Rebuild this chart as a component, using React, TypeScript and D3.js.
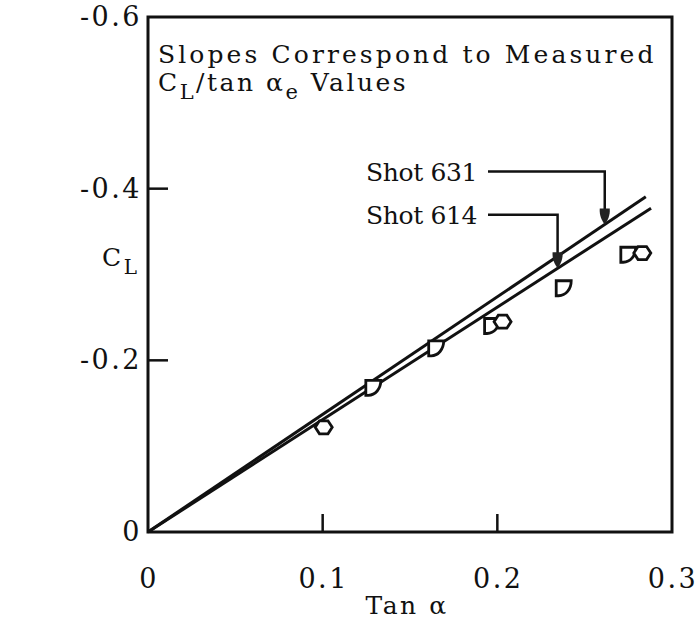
import React, {useEffect, useRef} from 'react'
import * as d3 from 'd3'

// axis values
const xTicks = [0, 0.1, 0.2, 0.3]
const xTickLabels = ['0', '0.1', '0.2', '0.3']
const yTicks = [0, -0.2, -0.4, -0.6]
const yTickLabels = ['0', '-0.2', '-0.4', '-0.6']

// slope lines (C_L / tan alpha)
const shotNames = ['Shot 631', 'Shot 614']
const shotSlopes = [-1.37, -1.31]
const shotEndX = [0.285, 0.288]
const shotArrowX = [0.2615, 0.2345]
const shotLabelY = [-0.42, -0.3695]

// measured points
const dPoints = [[0.129, -0.168], [0.165, -0.214], [0.197, -0.240], [0.238, -0.284], [0.275, -0.323]]
const hexPoints = [[0.1006, -0.122], [0.203, -0.245], [0.283, -0.325]]

const W = 698, H = 621
const margin = {top: 17, right: 26, bottom: 89, left: 148}
const font = '"DejaVu Serif", serif'
const fontSize = 25

function App() {
  const ref = useRef<SVGSVGElement>(null)

  useEffect(() => {
    const svg = d3.select(ref.current)
    svg.selectAll('*').remove()

    const x = d3.scaleLinear().domain([0, 0.3]).range([margin.left, W - margin.right])
    const y = d3.scaleLinear().domain([0, -0.6]).range([H - margin.bottom, margin.top])

    svg.append('rect').attr('width', W).attr('height', H).attr('fill', 'white')

    // frame
    svg.append('rect')
      .attr('x', x(0)).attr('y', y(-0.6))
      .attr('width', x(0.3) - x(0)).attr('height', y(0) - y(-0.6))
      .attr('fill', 'none').attr('stroke', '#111').attr('stroke-width', 3)

    // inward ticks
    svg.selectAll('xtick').data(xTicks.slice(1, -1)).enter().append('line')
      .attr('x1', d => x(d)).attr('x2', d => x(d))
      .attr('y1', y(0)).attr('y2', y(0) - 18)
      .attr('stroke', '#111').attr('stroke-width', 2.5)
    svg.selectAll('ytick').data(yTicks.slice(1, -1)).enter().append('line')
      .attr('y1', d => y(d)).attr('y2', d => y(d))
      .attr('x1', x(0)).attr('x2', x(0) + 20)
      .attr('stroke', '#111').attr('stroke-width', 2.5)

    const txt = (sel: any) => sel.attr('font-family', font).attr('font-size', fontSize)
      .attr('fill', '#111').attr('letter-spacing', 2.5)

    svg.selectAll('xlab').data(xTicks).enter().append('text')
      .call(txt).attr('font-size', 27)
      .attr('x', d => x(d) + 1).attr('y', y(0) + 56)
      .attr('text-anchor', 'middle')
      .text((d, i) => xTickLabels[i])
    svg.selectAll('ylab').data(yTicks).enter().append('text')
      .call(txt).attr('font-size', 27)
      .attr('x', x(0) - 6).attr('y', d => y(d) + 9)
      .attr('text-anchor', 'end')
      .text((d, i) => yTickLabels[i])

    // axis titles
    svg.append('text').call(txt)
      .attr('x', (x(0) + x(0.3)) / 2 - 3).attr('y', 614).attr('text-anchor', 'middle')
      .text('Tan α')

    const yt = svg.append('text').call(txt).attr('x', 102).attr('y', 266)
    yt.append('tspan').text('C')
    yt.append('tspan').attr('dy', 8).attr('font-size', 20).text('L')

    // note
    svg.append('text').call(txt).attr('x', 158).attr('y', 63)
      .attr('textLength', 498).attr('lengthAdjust', 'spacing')
      .text('Slopes Correspond to Measured')
    const n2 = svg.append('text').call(txt).attr('x', 158).attr('y', 91)
    n2.append('tspan').text('C')
    n2.append('tspan').attr('dy', 8).attr('font-size', 21).text('L')
    n2.append('tspan').attr('dy', -8).text('/tan α')
    n2.append('tspan').attr('dy', 8).attr('font-size', 21).text('e')
    n2.append('tspan').attr('dy', -8).text(' Values')

    // slope lines
    const line = d3.line<number>().x(d => x(d[0])).y(d => y(d[1]))
    shotSlopes.forEach((s, i) => {
      svg.append('path')
        .attr('d', line([[0, 0], [shotEndX[i], shotEndX[i] * s]] as any))
        .attr('fill', 'none').attr('stroke', '#111').attr('stroke-width', 3)
    })

    // shot labels with leader arrows
    const arrowHead = 'M0,0 C-3,-4 -5.5,-9 -5,-16 L5,-16 C5.5,-9 3,-4 0,0 Z'
    shotNames.forEach((name, i) => {
      const ly = y(shotLabelY[i])
      const ax = x(shotArrowX[i])
      const ay = y(shotArrowX[i] * shotSlopes[i])
      svg.append('text').call(txt).attr('x', 366).attr('y', ly + 9)
        .attr('textLength', 114).attr('lengthAdjust', 'spacing').text(name)
      svg.append('path')
        .attr('d', `M${488},${ly} H${ax} V${ay - 12}`)
        .attr('fill', 'none').attr('stroke', '#111').attr('stroke-width', 2.5)
      svg.append('path').attr('d', arrowHead)
        .attr('transform', `translate(${ax},${ay})`)
        .attr('fill', '#222')
    })

    // D shaped symbols
    svg.selectAll('dsym').data(dPoints).enter().append('path')
      .attr('d', 'M-7.5,-7.5 H7.5 C7.5,1 2,7.5 -5,7.5 H-7.5 Z')
      .attr('transform', d => `translate(${x(d[0])},${y(d[1])})`)
      .attr('fill', 'white').attr('stroke', '#111').attr('stroke-width', 2.8)

    // hexagon symbols
    const hex = d3.range(6).map(k => [8.5 * Math.cos(k * Math.PI / 3), 7.5 * Math.sin(k * Math.PI / 3)])
    svg.selectAll('hsym').data(hexPoints).enter().append('path')
      .attr('d', 'M' + hex.map(p => p.join(',')).join('L') + 'Z')
      .attr('transform', d => `translate(${x(d[0])},${y(d[1])})`)
      .attr('fill', 'white').attr('stroke', '#111').attr('stroke-width', 2.8)
  }, [])

  return (
    <svg ref={ref} width={W} height={H} style={{position: 'absolute', left: 0, top: 0}} />
  )
}

export default App
